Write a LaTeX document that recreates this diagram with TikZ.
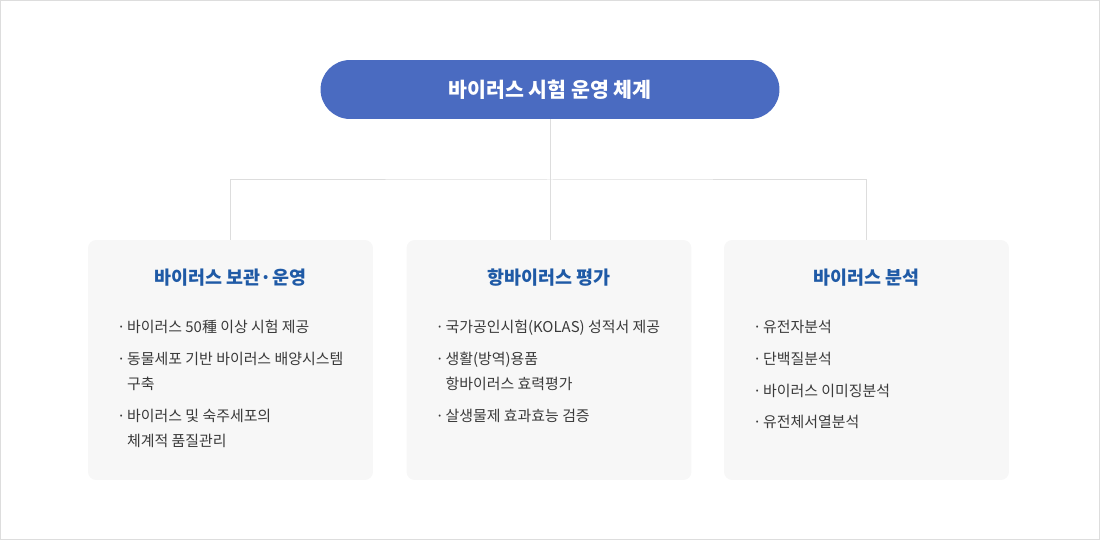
\documentclass[tikz,border=0pt]{standalone}
\usepackage{fontspec}
\setmainfont{Noto Sans CJK KR}
\definecolor{pillblue}{HTML}{4A6BC1}
\definecolor{titleblue}{HTML}{1F5AA6}
\definecolor{bodygray}{HTML}{3A3A3A}
\definecolor{cardbg}{HTML}{F7F7F7}
\definecolor{linegray}{HTML}{DDDDDD}
\tikzset{
	root/.style={fill=pillblue, text=white, rounded corners=0.59cm, minimum width=9.18cm, minimum height=1.18cm, font=\bfseries\fontsize{11.7}{13}\selectfont},
	card/.style={fill=cardbg, rounded corners=0.16cm, minimum width=5.7cm, minimum height=4.8cm, inner sep=0pt},
	cardtitle/.style={text=titleblue, font=\bfseries\fontsize{10.5}{12}\selectfont},
	cardlist/.style={text=bodygray, font=\fontsize{8.5}{14.23}\selectfont, align=left, anchor=north west, inner sep=0pt},
	link/.style={draw=linegray, line width=0.02cm}
}
\begin{document}
\begin{tikzpicture}[x=0.02cm,y=-0.02cm]
	\useasboundingbox (0,0) rectangle (1100,540);
	\draw [linegray, line width=0.02cm] (0.5,0.5) rectangle (1099.5,539.5);
	\node [root] (top) at (550,89.5) {바이러스 시험 운영 체계};
	\node [card] (keep) at (230.5,360) {};
	\node [card] (eval) at (549,360) {};
	\node [card] (anal) at (866.5,360) {};
	\coordinate (bus) at (550,180);
	\draw [link] (top.south) -- (bus);
	\draw [link] (bus) -- (bus |- eval.north);
	\draw [link] (keep.north) |- (bus) -| (anal.north);
	\node [cardtitle] (keeptitle) at ([yshift=-0.76cm]keep.north) {바이러스 보관·운영};
	\node [cardtitle] (evaltitle) at ([yshift=-0.76cm]eval.north) {항바이러스 평가};
	\node [cardtitle] (analtitle) at ([yshift=-0.76cm]anal.north) {바이러스 분석};
	\node [cardlist] (keeplist) at ([xshift=0.58cm,yshift=-1.61cm]keep.north west)
		{·\hspace{1pt}바이러스 50種 이상 시험 제공\\[3.8pt]
		·\hspace{1pt}동물세포 기반 바이러스 배양시스템\\
		\hphantom{·\hspace{1pt}}구축\\[3.8pt]
		·\hspace{1pt}바이러스 및 숙주세포의\\
		\hphantom{·\hspace{1pt}}체계적 품질관리};
	\node [cardlist] (evallist) at ([xshift=0.58cm,yshift=-1.61cm]eval.north west)
		{·\hspace{1pt}국가공인시험(KOLAS) 성적서 제공\\[3.8pt]
		·\hspace{1pt}생활(방역)용품\\
		\hphantom{·\hspace{1pt}}항바이러스 효력평가\\[3.8pt]
		·\hspace{1pt}살생물제 효과효능 검증};
	\node [cardlist] (anallist) at ([xshift=0.58cm,yshift=-1.61cm]anal.north west)
		{·\hspace{1pt}유전자분석\\[3.8pt]
		·\hspace{1pt}단백질분석\\[3.8pt]
		·\hspace{1pt}바이러스 이미징분석\\[3.8pt]
		·\hspace{1pt}유전체서열분석};
\end{tikzpicture}
\end{document}
